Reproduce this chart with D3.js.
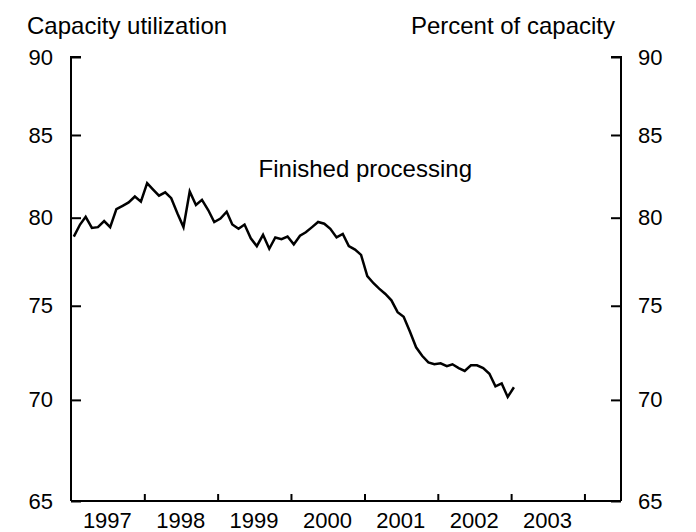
<!DOCTYPE html>
<html>
<head>
<meta charset="utf-8">
<script src="https://cdn.jsdelivr.net/npm/d3@7"></script>
<style>
    body { margin: 0; background: #fff; }
    text { font-family: "Liberation Sans", Arial, sans-serif; fill: #000; }
</style>
</head>
<body>
<svg id="chart" width="696" height="532"></svg>
<script>
// Monthly capacity utilization, finished processing (percent), Jan 1997 - Jan 2003
let startYear = 1997;
let values1997 = [78.9, 79.6, 80.05, 79.4, 79.45, 79.8, 79.45, 80.5, 80.7, 80.9, 81.25, 80.95];
let values1998 = [82.05, 81.65, 81.3, 81.5, 81.15, 80.25, 79.45, 81.55, 80.75, 81.05, 80.45, 79.75];
let values1999 = [79.95, 80.35, 79.6, 79.35, 79.6, 78.8, 78.35, 79.0, 78.2, 78.85, 78.75, 78.9];
let values2000 = [78.45, 78.95, 79.15, 79.45, 79.75, 79.65, 79.35, 78.85, 79.05, 78.35, 78.15, 77.85];
let values2001 = [76.65, 76.25, 75.95, 75.65, 75.3, 74.65, 74.4, 73.6, 72.75, 72.3, 71.95, 71.85];
let values2002 = [71.9, 71.75, 71.85, 71.65, 71.5, 71.8, 71.8, 71.65, 71.35, 70.7, 70.85, 70.15];
let values2003 = [70.65];

let yTicks = [65, 70, 75, 80, 85, 90];
let yearLabels = ["1997", "1998", "1999", "2000", "2001", "2002", "2003"];
let leftTitle = "Capacity utilization";
let rightTitle = "Percent of capacity";
let seriesLabel = "Finished processing";

let allValues = [values1997, values1998, values1999, values2000, values2001, values2002, values2003];
let data = [];
allValues.forEach((arr, yi) => {
    arr.forEach((v, m) => {
        data.push({date: new Date(startYear + yi, m, 15), value: v});
    });
});

let svg = d3.select("#chart");
let margin = {top: 57, right: 75, bottom: 31, left: 71},
    width = 696 - margin.left - margin.right,
    height = 532 - margin.top - margin.bottom;

let g = svg.append("g")
    .attr("transform", "translate(" + margin.left + "," + margin.top + ")");

let xScale = d3.scaleTime()
    .domain([new Date(1997, 0, 1), new Date(2004, 6, 1)])
    .range([0, width]);

let yScale = d3.scaleLog()
    .domain([65, 90])
    .range([height, 0]);

let tickFont = 22;   //axis numbers
let labelFont = 24;  //titles and series label

//Left axis
let leftAxis = g.append("g")
    .call(d3.axisLeft(yScale).tickValues(yTicks).tickSize(-10).tickPadding(18).tickFormat(d3.format("d")));

//Right axis
let rightAxis = g.append("g")
    .attr("transform", "translate(" + width + ",0)")
    .call(d3.axisRight(yScale).tickValues(yTicks).tickSize(-10).tickPadding(17).tickFormat(d3.format("d")));

//Bottom axis, ticks at year boundaries pointing inward
let yearTicks = d3.range(1998, 2005).map(y => new Date(y, 0, 1));
let bottomAxis = g.append("g")
    .attr("transform", "translate(0," + height + ")")
    .call(d3.axisBottom(xScale).tickValues(yearTicks).tickSize(-7).tickFormat(""));

[leftAxis, rightAxis, bottomAxis].forEach(a => {
    a.select(".domain").attr("stroke", "#000").attr("stroke-width", 2);
    a.selectAll(".tick line").attr("stroke", "#000").attr("stroke-width", 2);
    a.selectAll("text").style("font-size", tickFont + "px").style("font-family", "Liberation Sans, Arial, sans-serif").attr("fill", "#000");
});

//Domain paths: only the top cap points inward, no outer ticks
leftAxis.select(".domain").attr("d", "M10," + yScale(90) + "H0V" + yScale(65));
rightAxis.select(".domain").attr("d", "M-10," + yScale(90) + "H0V" + yScale(65));
bottomAxis.select(".domain").attr("d", "M0,0H" + width);

//Year labels, centered in each year
g.append("g").selectAll("text")
    .data(yearLabels)
    .enter().append("text")
    .attr("x", d => xScale(new Date(+d, 6, 1)))
    .attr("y", height + 27)
    .attr("text-anchor", "middle")
    .style("font-size", tickFont + "px")
    .text(d => d);

//Titles
svg.append("text")
    .attr("x", 27)
    .attr("y", 34)
    .style("font-size", labelFont + "px")
    .text(leftTitle);

svg.append("text")
    .attr("x", 615)
    .attr("y", 34)
    .attr("text-anchor", "end")
    .style("font-size", labelFont + "px")
    .text(rightTitle);

//Series label
g.append("text")
    .attr("x", xScale(new Date(2001, 0, 5)))
    .attr("y", 177 - margin.top)
    .attr("text-anchor", "middle")
    .style("font-size", labelFont + "px")
    .text(seriesLabel);

//Line
let line = d3.line()
    .x(d => xScale(d.date))
    .y(d => yScale(d.value));

g.append("path")
    .datum(data)
    .attr("fill", "none")
    .attr("stroke", "#000")
    .attr("stroke-width", 2.5)
    .attr("d", line);
</script>
</body>
</html>
